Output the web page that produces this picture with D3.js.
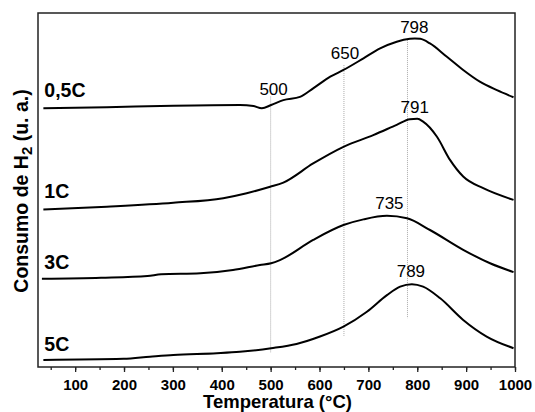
<!doctype html>
<meta charset="utf-8">
<style>
body { margin: 0; background: #fff; }
text { font-family: "Liberation Sans", Arial, sans-serif; }
.line { fill: none; stroke: #000; stroke-width: 2px; }
.axis text { font-weight: bold; font-size: 15px; }
</style>
<html lang="pt">
<body>
<script src="https://d3js.org/d3.v7.min.js"></script>
<script>
// H2-TPR profiles, temperature (°C) and intensity (a.u.)
var temp05 = [35, 165, 301, 437, 465, 482, 501, 526, 560, 587, 622, 649, 690, 724, 758, 785, 795, 806, 826, 860, 894, 928, 963, 997];
var int05  = [73.1, 73.4, 73.8, 74.0, 73.7, 73.1, 74.0, 75.4, 76.3, 78.7, 82.0, 83.9, 87.2, 90.0, 91.9, 92.7, 92.8, 92.7, 91.4, 87.7, 83.9, 80.6, 78.2, 76.2];

var temp1 = [35, 165, 301, 403, 451, 499, 526, 587, 649, 710, 758, 785, 800, 812, 840, 867, 894, 935, 997];
var int1  = [44.5, 45.3, 46.4, 47.7, 49.1, 50.9, 52.1, 57.5, 62.2, 65.5, 68.4, 70.0, 70.1, 69.3, 65.1, 58.5, 53.8, 50.5, 47.2];

var temp3 = [32, 153, 248, 276, 356, 423, 478, 501, 519, 587, 649, 690, 738, 779, 826, 894, 949, 997];
var int3  = [24.9, 25.2, 25.7, 26.2, 26.5, 27.4, 28.8, 29.3, 30.2, 35.9, 40.1, 41.7, 42.7, 42.0, 38.7, 33.1, 29.3, 26.8];

var temp5 = [35, 199, 253, 301, 390, 437, 501, 553, 601, 649, 697, 738, 765, 789, 812, 847, 894, 942, 997];
var int5  = [2.0, 2.3, 2.9, 3.4, 3.9, 4.3, 5.3, 6.5, 8.6, 11.4, 15.6, 20.3, 22.7, 23.4, 22.7, 19.4, 13.3, 8.6, 5.3];

var seriesNames = ["0,5C", "1C", "3C", "5C"];
var seriesLabelY = [76.3, 47.7, 27.7, 4.5];

// dotted guide lines
var guideX = [500, 650, 780];
var guideTop = [76.4, 85.3, 92.4];
var guideBottom = [4.0, 8.8, 13.8];

// peak annotations
var peakText = ["500", "650", "798", "791", "735", "789"];
var peakX = [506, 652, 794, 795, 743, 787];
var peakY = [76.8, 87.0, 94.4, 71.8, 44.6, 25.4];

var xTicks = [100, 200, 300, 400, 500, 600, 700, 800, 900, 1000];

var margin = {top: 13, right: 20, bottom: 45, left: 38},
    width = 535 - margin.left - margin.right,
    height = 412 - margin.top - margin.bottom;

var x = d3.scaleLinear().domain([24, 1000]).range([0, width]);
var y = d3.scaleLinear().domain([0, 100]).range([height, 0]);

var svg = d3.select("body").append("svg")
    .attr("width", 535)
    .attr("height", 412)
  .append("g")
    .attr("transform", "translate(" + margin.left + "," + margin.top + ")");

var series = [
  d3.zip(temp05, int05),
  d3.zip(temp1, int1),
  d3.zip(temp3, int3),
  d3.zip(temp5, int5)
];

// guide lines
guideX.forEach(function(g, i) {
  svg.append("line")
      .attr("x1", x(g)).attr("x2", x(g))
      .attr("y1", y(guideTop[i])).attr("y2", y(guideBottom[i]))
      .style("stroke", "#aaa")
      .style("stroke-width", 1)
      .style("stroke-dasharray", "1,1");
});

var line = d3.line()
    .x(function(d) { return x(d[0]); })
    .y(function(d) { return y(d[1]); })
    .curve(d3.curveMonotoneX);

series.forEach(function(s) {
  svg.append("path")
      .datum(s)
      .attr("class", "line")
      .attr("d", line);
});

// series labels
seriesNames.forEach(function(n, i) {
  svg.append("text")
      .attr("x", x(37))
      .attr("y", y(seriesLabelY[i]))
      .style("font-weight", "bold")
      .style("font-size", "19.5px")
      .text(n);
});

// peak labels
peakText.forEach(function(t, i) {
  svg.append("text")
      .attr("x", x(peakX[i]))
      .attr("y", y(peakY[i]))
      .attr("text-anchor", "middle")
      .style("font-size", "17px")
      .text(t);
});

// frame
svg.append("rect")
    .attr("width", width)
    .attr("height", height)
    .style("fill", "none")
    .style("stroke", "#222")
    .style("stroke-width", 1.5);

// X axis, major + minor ticks
svg.append("g")
    .attr("transform", "translate(0," + height + ")")
    .call(d3.axisBottom(x).tickValues(d3.range(50, 1001, 50)).tickSize(3).tickFormat(""))
    .call(function(g) { g.select(".domain").remove(); });

var xAxis = svg.append("g")
    .attr("class", "axis")
    .attr("transform", "translate(0," + height + ")")
    .call(d3.axisBottom(x).tickValues(xTicks).tickSize(5).tickPadding(7).tickFormat(d3.format("d")));
xAxis.select(".domain").remove();
xAxis.selectAll("text").attr("fill", "#000");

svg.selectAll("line").filter(function() { return this.parentNode.classList.contains("tick"); })
    .style("stroke", "#222").style("stroke-width", 1.3);

// axis titles
svg.append("text")
    .attr("x", width / 2 + 1)
    .attr("y", height + 41)
    .attr("text-anchor", "middle")
    .style("font-weight", "bold")
    .style("font-size", "18.5px")
    .text("Temperatura (°C)");

var yTitle = svg.append("text")
    .attr("transform", "translate(" + (-10) + "," + (191 - margin.top) + ") rotate(-90)")
    .attr("text-anchor", "middle")
    .style("font-weight", "bold")
    .style("font-size", "19.5px");
yTitle.append("tspan").text("Consumo de H");
yTitle.append("tspan").attr("baseline-shift", "-4").style("font-size", "15px").text("2");
yTitle.append("tspan").text(" (u. a.)");
</script>
</body>
</html>
